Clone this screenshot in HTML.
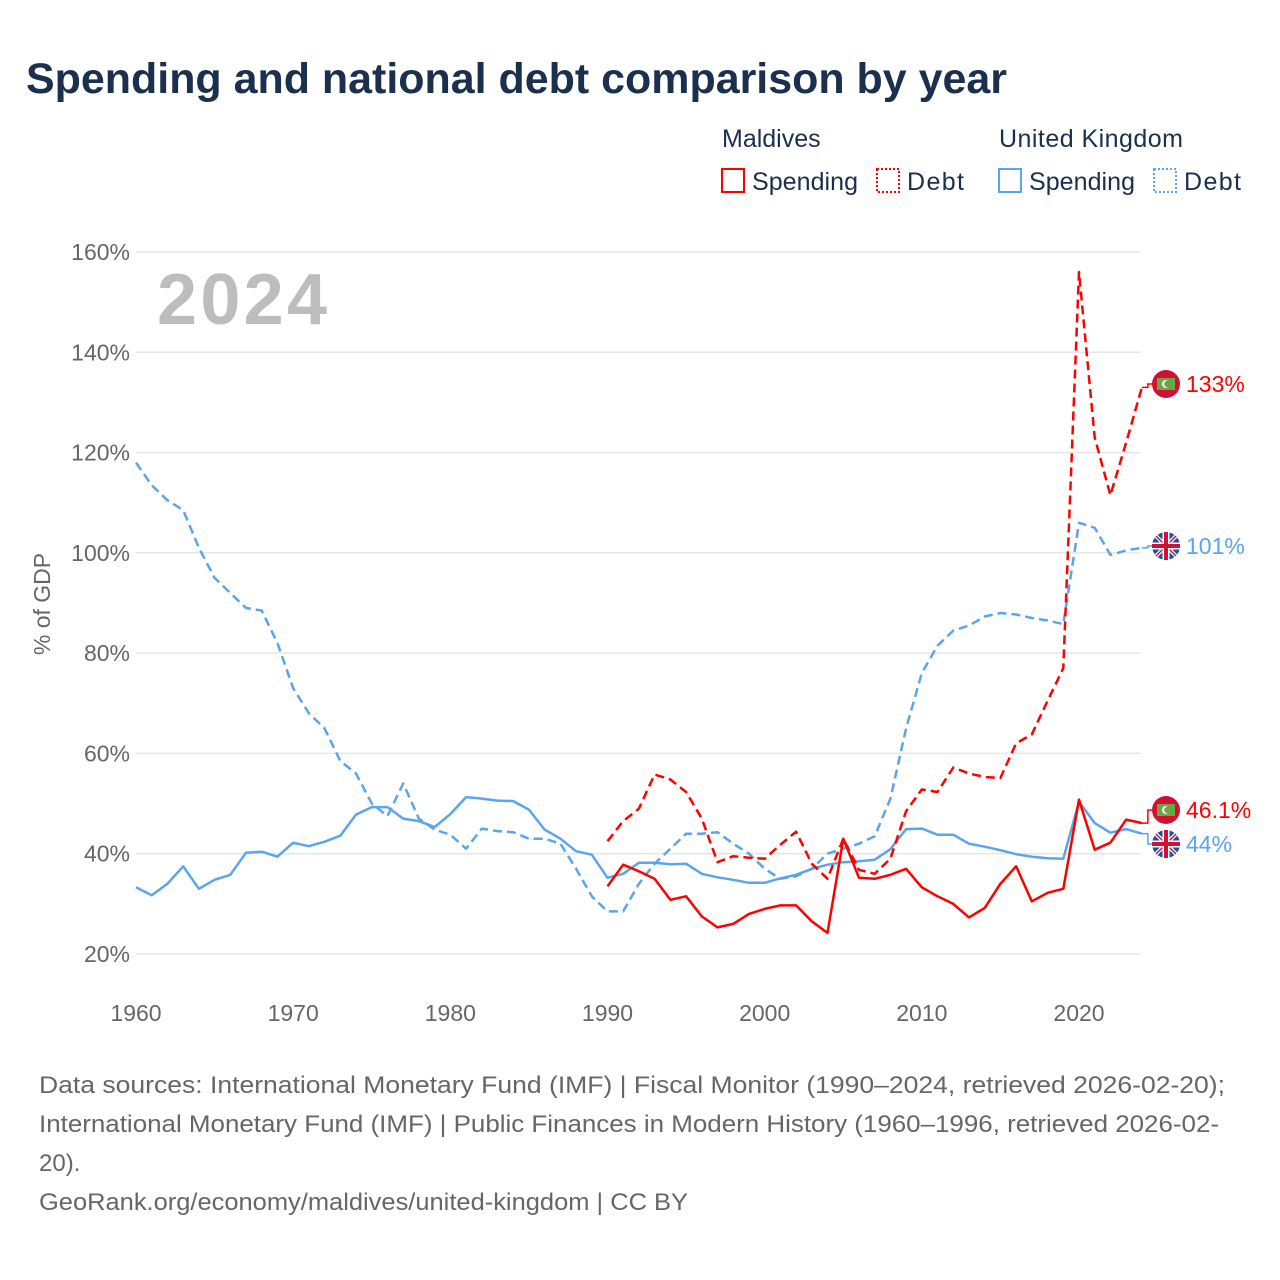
<!DOCTYPE html>
<html><head><meta charset="utf-8">
<style>
body{margin:0;background:#fff;font-family:"Liberation Sans",sans-serif;}
#wrap{position:relative;width:1280px;height:1280px;overflow:hidden;}
</style></head>
<body><div id="wrap">
<svg id="svg" width="1280" height="1280" xmlns="http://www.w3.org/2000/svg">
<text x="26" y="93" font-size="43" font-weight="bold" fill="#1b2f4e" textLength="981" lengthAdjust="spacingAndGlyphs">Spending and national debt comparison by year</text>
<g font-size="25" fill="#1b2f4e">
<text x="722" y="147">Maldives</text>
<text x="999" y="147" textLength="184">United Kingdom</text>
<g><rect x="722" y="169" width="22" height="23" fill="none" stroke="#f00" stroke-width="2"/><text x="752" y="190" textLength="106">Spending</text></g>
<g><rect x="877" y="169" width="22" height="23" fill="none" stroke="#f00" stroke-width="2" stroke-dasharray="2,2"/><text x="907" y="190" textLength="57">Debt</text></g>
<g><rect x="999" y="169" width="22" height="23" fill="none" stroke="#5aa5ec" stroke-width="2"/><text x="1029" y="190" textLength="106">Spending</text></g>
<g><rect x="1154" y="169" width="22" height="23" fill="none" stroke="#5aa5ec" stroke-width="2" stroke-dasharray="2,2"/><text x="1184" y="190" textLength="57">Debt</text></g>
</g>
<g id="grid"></g>
<text x="157" y="324" font-size="72" font-weight="bold" fill="#bdbdbd" textLength="170">2024</text>
<text transform="translate(50,604) rotate(-90)" text-anchor="middle" font-size="23" fill="#666">% of GDP</text>
<g id="lines"></g>
<g id="labels"></g>
<g font-size="24" fill="#666" lengthAdjust="spacingAndGlyphs">
<text x="39" y="1093" textLength="1186" lengthAdjust="spacingAndGlyphs">Data sources: International Monetary Fund (IMF) | Fiscal Monitor (1990–2024, retrieved 2026-02-20);</text>
<text x="39" y="1132" textLength="1180" lengthAdjust="spacingAndGlyphs">International Monetary Fund (IMF) | Public Finances in Modern History (1960–1996, retrieved 2026-02-</text>
<text x="39" y="1171">20).</text>
<text x="39" y="1210" textLength="649" lengthAdjust="spacingAndGlyphs">GeoRank.org/economy/maldives/united-kingdom | CC BY</text>
</g>
</svg>
</div>
<script>
const yTicks=[20,40,60,80,100,120,140,160];
const xTicks=[1960,1970,1980,1990,2000,2010,2020];
const ukYears=[];for(let y=1960;y<=2024;y++)ukYears.push(y);
const mvYears=[];for(let y=1990;y<=2024;y++)mvYears.push(y);
const ukDebt=[118,113.5,110.5,108.5,101,95,92,89,88.5,82,73,68,65,58.5,56,50,47.5,54,47,44.8,43.8,41,45,44.5,44.3,43,43,42,37,31.5,28.5,28.5,34,38,41,44,44,44.3,42,40,37,35,35.5,37,40,41,42,43.5,51,65,76,81.5,84.5,85.5,87.3,88,87.7,87,86.5,85.8,106,105,99.6,100.5,101];
const ukSpend=[33.3,31.7,34,37.5,33,34.8,35.8,40.2,40.4,39.4,42.2,41.5,42.4,43.6,47.8,49.3,49.3,47,46.5,45.3,47.9,51.3,51,50.6,50.5,48.8,44.8,43,40.5,39.8,35.2,36,38.2,38.2,37.9,38,36,35.3,34.8,34.2,34.2,35.1,35.8,37,37.8,38.3,38.5,38.8,40.9,44.9,45,43.8,43.8,42,41.4,40.7,39.9,39.4,39.1,39,50.4,46.1,44.2,44.9,44];
const mvDebt=[42.5,46.5,49,55.8,54.8,52.3,47,38.3,39.5,39.2,39,41.8,44.4,38,35,43,36.8,36,39,48.5,52.8,52.3,57.2,56,55.3,55.1,62,63.8,70.5,77,156,123,111.5,122,133];
const mvSpend=[33.5,37.8,36.5,35,30.8,31.5,27.5,25.3,26,28,29,29.7,29.7,26.5,24.2,43,35.2,35,35.8,37,33.3,31.5,30,27.3,29.2,34,37.5,30.5,32.2,33,50.8,40.8,42.2,46.8,46.1];
const endLabels=["133%","101%","46.1%","44%"];

const NS="http://www.w3.org/2000/svg";
const X=yr=>136+(yr-1960)*(943/60);
const Y=v=>954-(v-20)*(702/140);
function mk(t,a,p){const e=document.createElementNS(NS,t);for(const k in a)e.setAttribute(k,a[k]);p.appendChild(e);return e;}
const grid=document.getElementById('grid'),lines=document.getElementById('lines'),labels=document.getElementById('labels');
yTicks.forEach(v=>{
  const l=mk('line',{x1:136,x2:1141,y1:Y(v),y2:Y(v),stroke:'#e6e6e6','stroke-width':1.5},grid);
  
  
  const t=mk('text',{x:130,y:Y(v)+8,'text-anchor':'end','font-size':23,fill:'#666'},grid);t.textContent=v+'%';
  
  
});
xTicks.forEach(v=>{
  const t=mk('text',{x:X(v),y:1021,'text-anchor':'middle','font-size':23,fill:'#666'},grid);t.textContent=v;
  
  
});
function series(years,vals,color,dash,name){
  const d=years.map((yr,i)=>(i?'L':'M')+X(yr).toFixed(1)+','+Y(vals[i]).toFixed(1)).join('');
  const p=mk('path',{d:d,fill:'none',stroke:color,'stroke-width':2.5,'stroke-linejoin':'round'},lines);
  if(dash)p.setAttribute('stroke-dasharray','9,5');
  
  
}
series(ukYears,ukDebt,'#5aa5ec',true,'uk-debt-line');
series(ukYears,ukSpend,'#5aa5ec',false,'uk-spending-line');
series(mvYears,mvDebt,'#ff0000',true,'maldives-debt-line');
series(mvYears,mvSpend,'#ff0000',false,'maldives-spending-line');

function flag(cy,kind,val,label,color,name){
  const cx=1166,ex=X(2024),ey=Y(val);
  mk('path',{d:`M${ex},${ey}H${ex+6}V${cy}H${cx-14}`,fill:'none',stroke:color,'stroke-width':1.5},labels);
  const g=mk('g',{},labels);
  
  
  if(kind==='mv'){
    mk('circle',{cx:cx,cy:cy,r:14,fill:'#d21034'},g);
    mk('rect',{x:cx-9,y:cy-6,width:18,height:12,fill:'#6aa745'},g);
    mk('circle',{cx:cx,cy:cy,r:4,fill:'#fff'},g);
    mk('circle',{cx:cx+1.8,cy:cy,r:3.6,fill:'#6aa745'},g);
  }else{
    mk('circle',{cx:cx,cy:cy,r:14,fill:'#1f4ea3'},g);
    mk('path',{d:`M${cx-10},${cy-10}L${cx+10},${cy+10}M${cx+10},${cy-10}L${cx-10},${cy+10}`,stroke:'#fff','stroke-width':4},g);
    mk('path',{d:`M${cx-10},${cy-10}L${cx+10},${cy+10}M${cx+10},${cy-10}L${cx-10},${cy+10}`,stroke:'#d21034','stroke-width':1.5},g);
    mk('path',{d:`M${cx},${cy-14}V${cy+14}M${cx-14},${cy}H${cx+14}`,stroke:'#fff','stroke-width':7},g);
    mk('path',{d:`M${cx},${cy-14}V${cy+14}M${cx-14},${cy}H${cx+14}`,stroke:'#d21034','stroke-width':4},g);
  }
  const t=mk('text',{x:1186,y:cy+8,'font-size':23,fill:color},g);t.textContent=label;
}
flag(384,'mv',mvDebt[mvDebt.length-1],endLabels[0],'#ff0000','maldives-debt-end-label');
flag(546,'uk',ukDebt[ukDebt.length-1],endLabels[1],'#5aa5ec','uk-debt-end-label');
flag(810,'mv',mvSpend[mvSpend.length-1],endLabels[2],'#ff0000','maldives-spending-end-label');
flag(844,'uk',ukSpend[ukSpend.length-1],endLabels[3],'#5aa5ec','uk-spending-end-label');
</script>
</body></html>
